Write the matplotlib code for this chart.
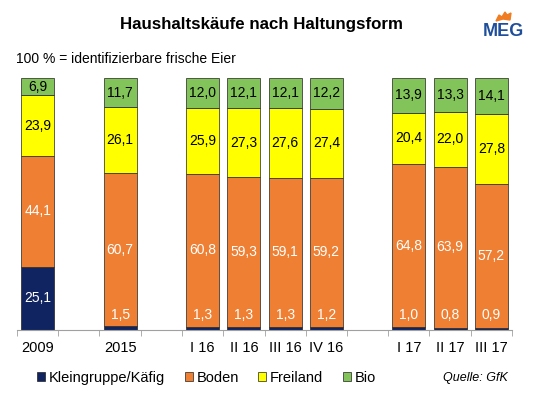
from matplotlib import pyplot as plt
from matplotlib import patches as mp
import numpy as np

plt.rcParams['font.family'] = ['Liberation Sans', 'DejaVu Sans']

# categories (empty slots are the gaps between the groups)
CATEGORIES = ['2009', '', '2015', '', 'I 16', 'II 16', 'III 16', 'IV 16', '', 'I 17', 'II 17', 'III 17']

# share in percent per category, same order as above (None = gap)
kaefig   = [25.1, None, 1.5, None, 1.3, 1.3, 1.3, 1.2, None, 1.0, 0.8, 0.9]
boden    = [44.1, None, 60.7, None, 60.8, 59.3, 59.1, 59.2, None, 64.8, 63.9, 57.2]
freiland = [23.9, None, 26.1, None, 25.9, 27.3, 27.6, 27.4, None, 20.4, 22.0, 27.8]
bio      = [6.9, None, 11.7, None, 12.0, 12.1, 12.1, 12.2, None, 13.9, 13.3, 14.1]

SERIES = ['Kleingruppe/Käfig', 'Boden', 'Freiland', 'Bio']
COLOURS = ['#0F2461', '#EE7F33', '#FFFF00', '#82C35A']
TEXTCOL = ['white', 'white', 'black', 'black']

fig = plt.figure(figsize=(5.4, 3.98), dpi=100)
ax = fig.add_axes([17/540, 1 - 330/398, 495/540, 252/398])

x = np.arange(len(CATEGORIES))
bottom = np.zeros(len(CATEGORIES))
data = [kaefig, boden, freiland, bio]

for s, vals in enumerate(data):
    for i, v in enumerate(vals):
        if v is None:
            continue
        ax.bar(x[i], v, bottom=bottom[i], width=0.8, color=COLOURS[s],
               edgecolor='#222222', linewidth=0.5)
        label = ('%.1f' % v).replace('.', ',')
        if s == 0 and v < 5:
            ypos = 6  # small cage values sit low in the orange part
        else:
            ypos = bottom[i] + v / 2
        ax.text(x[i], ypos, label, ha='center', va='center', fontsize=10,
                color=TEXTCOL[s])
        bottom[i] += v

ax.set_xlim(-0.5, len(CATEGORIES) - 0.5)
ax.set_ylim(0, 100)
ax.set_yticks([])
for side in ['top', 'right', 'left']:
    ax.spines[side].set_visible(False)
ax.spines['bottom'].set_color('#A0A0A0')

ax.set_xticks(x)
ax.set_xticklabels(CATEGORIES, fontsize=10.5)
ax.tick_params(axis='x', which='major', length=0, pad=8)
ax.set_xticks(np.arange(-0.5, len(CATEGORIES)), minor=True)
ax.tick_params(axis='x', which='minor', length=4, color='#A0A0A0')

fig.text(261/540, 1 - 24/398, 'Haushaltskäufe nach Haltungsform', ha='center',
         va='center', fontsize=12.2, fontweight='bold')
fig.text(16/540, 1 - 59/398, '100 % = identifizierbare frische Eier', ha='left',
         va='center', fontsize=10)

# logo
fig.text(503/540, 1 - 31/398, 'MEG', ha='center', va='center', fontsize=13,
         fontweight='bold', color='#1F4E9A')
flame = mp.Polygon([(496/540, 1-21/398), (499/540, 1-15/398), (502/540, 1-17/398),
                    (505/540, 1-12/398), (507/540, 1-15/398), (511/540, 1-13/398),
                    (510/540, 1-20/398), (503/540, 1-19/398)],
                   closed=True, transform=fig.transFigure, color='#F07D22')
fig.patches.append(flame)

handles = [mp.Patch(facecolor=c, edgecolor='#222222', linewidth=0.5, label=l)
           for c, l in zip(COLOURS, SERIES)]
fig.legend(handles=handles, loc='center left', bbox_to_anchor=(37/540, 1 - 378/398),
           ncol=4, frameon=False, fontsize=10.5, borderpad=0, borderaxespad=0,
           handlelength=0.55, handleheight=0.55, handletextpad=0.25,
           columnspacing=1.35)
fig.text(508/540, 1 - 378/398, 'Quelle: GfK', ha='right', va='center',
         fontsize=9, style='italic')

fig.savefig('out.png', dpi=100)
